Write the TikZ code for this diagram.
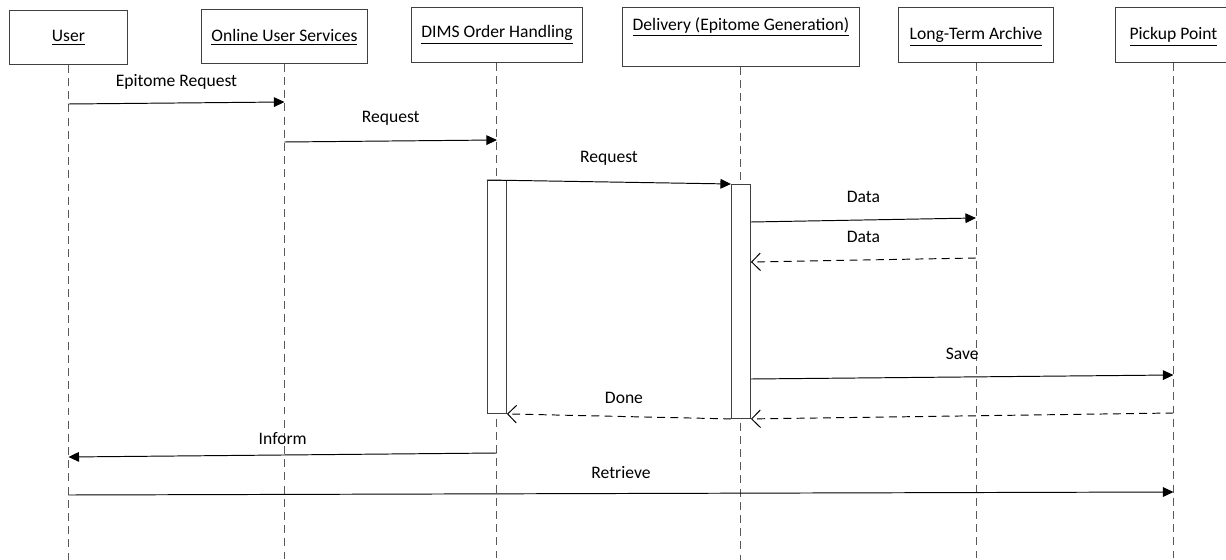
\documentclass[tikz,border=0pt]{standalone}
\usepackage{fontspec}
\setmainfont{Carlito}
\usetikzlibrary{positioning,arrows.meta}
\definecolor{lineGray}{HTML}{595959}
\definecolor{boxGray}{HTML}{404040}

\tikzset{
  headbox/.style={draw=boxGray, fill=white, inner sep=0pt, anchor=north west},
  headtext/.style={inner sep=0pt},
  life/.style={draw=lineGray, dash pattern=on 4.5pt off 3pt},
  actbox/.style={draw=boxGray, fill=white, minimum width=0.38cm, inner sep=0pt, anchor=north},
  msg/.style={black, -{Triangle[length=6pt,width=5.5pt]}},
  reply/.style={black, dash pattern=on 4.5pt off 3pt, -{Straight Barb[length=5pt,width=10pt]}},
  lbl/.style={midway, yshift=#1, inner sep=0pt},
  lbl/.default=0.44cm
}

\begin{document}
\begin{tikzpicture}[x=0.02cm, y=-0.02cm, line width=0.55pt, font=\fontsize{10}{12}\selectfont]
\useasboundingbox (0,0) rectangle (1226,560);

% participants
\node[headbox, minimum width=2.36cm, minimum height=1.08cm] (user) at (9,10) {};
\node[headbox, minimum width=3.32cm, minimum height=1.08cm] (ous) at (201,9) {};
\node[headbox, minimum width=3.42cm, minimum height=1.1cm] (dims) at (411,7) {};
\node[headbox, minimum width=4.74cm, minimum height=1.18cm] (dlv) at (622,7) {};
\node[headbox, minimum width=3.1cm, minimum height=1.1cm] (lta) at (898,7) {};
\node[headbox, minimum width=2.32cm, minimum height=1.1cm] (pick) at (1115,7) {};

\node[headtext] at (user.center |- 0,38) {\underline{User}};
\node[headtext] at (ous.center |- 0,37) {\underline{Online User Services}};
\node[headtext] at (dims.center |- 0,35) {\underline{DIMS Order Handling}};
\node[headtext] at (dlv.center |- 0,27) {\underline{Delivery (Epitome Generation)}};
\node[headtext] at (lta.center |- 0,37) {\underline{Long-Term Archive}};
\node[headtext] at (pick.center |- 0,37) {\underline{Pickup Point}};

% lifelines
\foreach \p in {user,ous,dims,dlv,lta,pick}
  \draw[life] (\p.south) -- (\p.south |- 0,560);

% activations
\node[actbox, minimum height=4.66cm] (dimsact) at (dims.south |- 0,180) {};
\node[actbox, minimum height=4.68cm] (dlvact) at (dlv.south |- 0,184) {};

% messages
\draw[msg] (user.south |- 0,104) -- (ous.south |- 0,102) node[lbl=0.42cm] {Epitome Request};
\draw[msg] (ous.south |- 0,142) -- (dims.south |- 0,140) node[lbl=0.46cm] {Request};
\draw[msg] (dimsact.north west) -- (dlvact.north west) node[lbl=0.48cm] {Request};
\draw[msg] (dlvact.east |- 0,222) -- (lta.south |- 0,218) node[lbl=0.46cm] {Data};
\draw[reply] (lta.south |- 0,258) -- (dlvact.east |- 0,262) node[lbl=0.46cm] {Data};
\draw[msg] (dlvact.east |- 0,379) -- (pick.south |- 0,375) node[lbl=0.46cm] {Save};
\draw[reply] (dlvact.south west) -- (dimsact.south east) node[lbl=0.38cm, xshift=0.1cm] {Done};
\draw[reply] (pick.south |- 0,413) -- (dlvact.south east);
\draw[msg] (dims.south |- 0,453) -- (user.south |- 0,457) node[lbl=0.32cm] {Inform};
\draw[msg] (user.south |- 0,495) -- (pick.south |- 0,492) node[lbl=0.42cm] {Retrieve};
\end{tikzpicture}
\end{document}
